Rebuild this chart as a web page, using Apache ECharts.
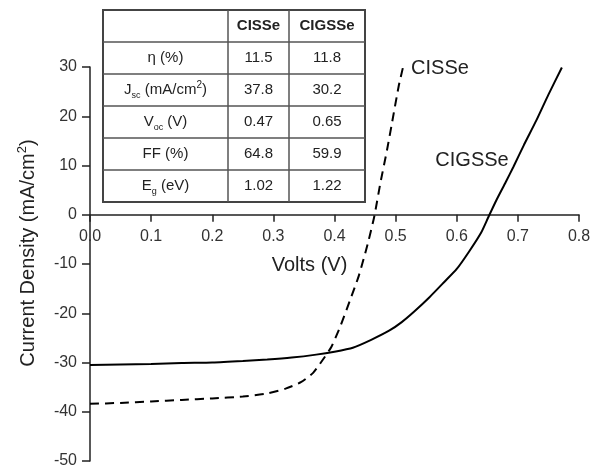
<!DOCTYPE html>
<html><head><meta charset="utf-8">
<script src="https://cdn.jsdelivr.net/npm/echarts@6/dist/echarts.min.js"></script>
<style>html,body{margin:0;padding:0;background:#fff}#c{width:591px;height:469px}</style>
</head><body><div id="c"></div>
<script>
// ---- data ----
const cisseV = [0, 0.05, 0.10, 0.15, 0.20, 0.25, 0.29, 0.32, 0.345, 0.365, 0.38, 0.395, 0.41, 0.425, 0.44, 0.455, 0.465, 0.475, 0.486, 0.494, 0.505, 0.512];
const cisseJ = [-38.4, -38.2, -37.9, -37.6, -37.3, -36.9, -36.3, -35.3, -34.0, -32.1, -29.6, -26.8, -22.5, -17.5, -12.3, -5.6, -0.4, 6.4, 13.2, 18.6, 26.1, 29.9];
const cigsseV = [0, 0.05, 0.10, 0.15, 0.20, 0.25, 0.29, 0.33, 0.37, 0.40, 0.43, 0.46, 0.49, 0.51, 0.53, 0.555, 0.58, 0.60, 0.62, 0.64, 0.652, 0.665, 0.68, 0.693, 0.71, 0.73, 0.75, 0.772];
const cigsseJ = [-30.5, -30.4, -30.3, -30.1, -30.0, -29.7, -29.4, -29.0, -28.4, -27.8, -27.0, -25.4, -23.5, -21.8, -19.7, -16.8, -13.6, -11.0, -7.5, -3.6, -0.4, 3.0, 6.6, 9.8, 14.2, 19.1, 24.4, 29.9];
const xMin = 0, xMax = 0.8, xStep = 0.1;
const yMin = -50, yMax = 30, yStep = 10;
const tableHeaders = ['', 'CISSe', 'CIGSSe'];
const tableRowLabels = ['{m|η (%)}', '{m|J}{sub|sc}{m| (mA/cm}{sup|2}{m|)}', '{m|V}{sub|oc}{m| (V)}', '{m|FF (%)}', '{m|E}{sub|g}{m| (eV)}'];
const tableCISSe = ['11.5', '37.8', '0.47', '64.8', '1.02'];
const tableCIGSSe = ['11.8', '30.2', '0.65', '59.9', '1.22'];
const curveLabels = [{text: 'CISSe', v: 0.5726, j: 29.7}, {text: 'CIGSSe', v: 0.625, j: 11.0}];

// ---- chart ----
const FONT = '"Liberation Sans", Arial, sans-serif';
const chart = echarts.init(document.getElementById('c'), null, {renderer: 'canvas'});

function pairs(xs, ys) { return xs.map((x, i) => [x, ys[i]]); }

// table layout
const colX = [103, 228, 289, 365];
const rowY = [10, 42, 74, 106, 138, 170, 202];
const tableEls = [];
tableEls.push({type: 'rect', shape: {x: colX[0], y: rowY[0], width: colX[3] - colX[0], height: rowY[6] - rowY[0]},
  style: {fill: '#fff', stroke: '#444', lineWidth: 2}, z: 100});
for (let i = 1; i < rowY.length - 1; i++) {
  tableEls.push({type: 'line', shape: {x1: colX[0], y1: rowY[i], x2: colX[3], y2: rowY[i]}, style: {stroke: '#555', lineWidth: 1.5}, z: 101});
}
for (let i = 1; i < colX.length - 1; i++) {
  tableEls.push({type: 'line', shape: {x1: colX[i], y1: rowY[0], x2: colX[i], y2: rowY[6]}, style: {stroke: '#555', lineWidth: 1.5}, z: 101});
}
const rich = {
  m: {fontSize: 15, fontFamily: FONT, fill: '#222', lineHeight: 20},
  sub: {fontSize: 9, fontFamily: FONT, fill: '#222', lineHeight: 10, verticalAlign: 'bottom'},
  sup: {fontSize: 10, fontFamily: FONT, fill: '#222', lineHeight: 10, verticalAlign: 'top'}
};
function cellText(text, col, row, bold, useRich) {
  const cx = (colX[col] + colX[col + 1]) / 2, cy = (rowY[row] + rowY[row + 1]) / 2;
  const st = {text: text, x: cx, y: cy, align: 'center', verticalAlign: 'middle',
    fontFamily: FONT, fontSize: 15, fontWeight: bold ? 'bold' : 'normal', fill: '#222'};
  if (useRich) st.rich = rich;
  return {type: 'text', style: st, z: 102};
}
tableHeaders.forEach((h, c) => { if (h) tableEls.push(cellText(h, c, 0, true, false)); });
tableRowLabels.forEach((t, r) => tableEls.push(cellText(t, 0, r + 1, false, true)));
tableCISSe.forEach((t, r) => tableEls.push(cellText(t, 1, r + 1, false, false)));
tableCIGSSe.forEach((t, r) => tableEls.push(cellText(t, 2, r + 1, false, false)));

const option = {
  animation: false,
  backgroundColor: '#fff',
  grid: {left: 90, right: 12, top: 67, bottom: 8, containLabel: false, outerBoundsMode: 'none'},
  xAxis: {
    type: 'value', min: xMin, max: xMax, interval: xStep, offset: 0,
    name: 'Volts (V)', nameLocation: 'middle', nameGap: 41,
    nameTextStyle: {fontFamily: FONT, fontSize: 20, color: '#222', padding: [0, 50, 0, 0]},
    axisLine: {onZero: false, lineStyle: {color: '#222', width: 1.5}},
    axisTick: {show: true, inside: false, length: 7, lineStyle: {color: '#222', width: 1.5}},
    axisLabel: {fontFamily: FONT, fontSize: 16, color: '#333', margin: 14, formatter: v => v.toFixed(1)},
    splitLine: {show: false}
  },
  yAxis: {
    type: 'value', min: yMin, max: yMax, interval: yStep,
    name: '{a|Current Density (mA/cm}{s|2}{a|)}', nameLocation: 'middle', nameGap: 50, nameRotate: 90,
    nameTextStyle: {padding: [0, 0, 0, 22], rich: {
      a: {fontFamily: FONT, fontSize: 20, color: '#222', lineHeight: 24},
      s: {fontFamily: FONT, fontSize: 13, color: '#222', lineHeight: 14, verticalAlign: 'top'}
    }},
    axisLine: {show: true, onZero: false, lineStyle: {color: '#222', width: 1.5}},
    axisTick: {show: true, length: 8, lineStyle: {color: '#222', width: 1.5}},
    axisLabel: {fontFamily: FONT, fontSize: 16, color: '#333', margin: 13},
    splitLine: {show: false}
  },
  series: [
    {name: 'CISSe', type: 'line', data: pairs(cisseV, cisseJ), showSymbol: false, symbol: 'none', smooth: 0.2,
      lineStyle: {color: '#000', width: 2, type: [9, 6]}},
    {name: 'CIGSSe', type: 'line', data: pairs(cigsseV, cigsseJ), showSymbol: false, symbol: 'none', smooth: 0.2,
      lineStyle: {color: '#000', width: 2, type: 'solid'}}
  ],
  graphic: tableEls
};
chart.setOption(option);

// move the x axis (with its labels) onto the J = 0 line, computed from the y scale
const yZeroPx = chart.convertToPixel({yAxisIndex: 0}, 0);
const yBottomPx = chart.convertToPixel({yAxisIndex: 0}, yMin);
const labelEls = curveLabels.map(l => {
  const p = chart.convertToPixel({gridIndex: 0}, [l.v, l.j]);
  return {type: 'text', style: {text: l.text, x: p[0], y: p[1], align: 'center', verticalAlign: 'middle',
    fontFamily: FONT, fontSize: 20, fill: '#222'}, z: 50};
});
chart.setOption({xAxis: {offset: yZeroPx - yBottomPx}, graphic: tableEls.concat(labelEls)});
</script>
</body></html>
